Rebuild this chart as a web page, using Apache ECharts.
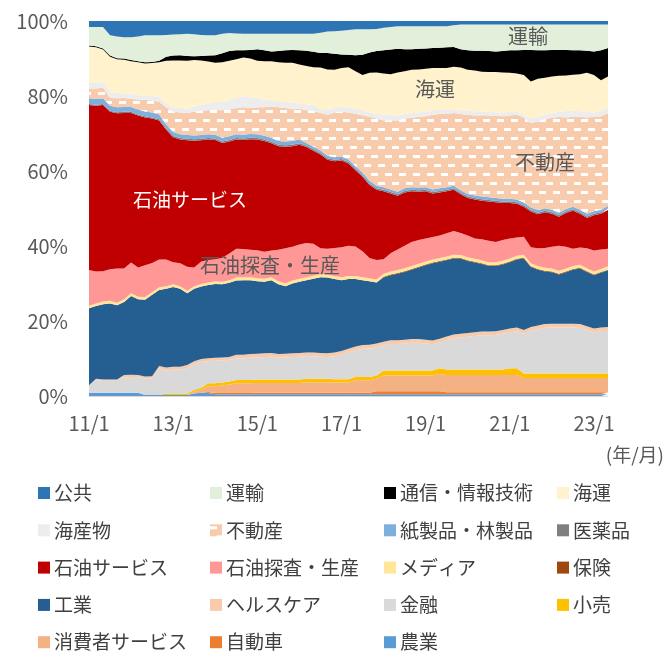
<!DOCTYPE html>
<html><head><meta charset="utf-8">
<script src="https://cdn.jsdelivr.net/npm/echarts@6/dist/echarts.min.js"></script>
<style>html,body{margin:0;padding:0;background:#fff}#c{width:665px;height:653px}</style>
</head><body><div id="c"></div>
<script>
const categories = [
'11/1','11/3','11/5','11/7','11/9','11/11','12/1','12/3','12/5','12/7','12/9','12/11',
'13/1','13/3','13/5','13/7','13/9','13/11','14/1','14/3','14/5','14/7','14/9','14/11',
'15/1','15/3','15/5','15/7','15/9','15/11','16/1','16/3','16/5','16/7','16/9','16/11',
'17/1','17/3','17/5','17/7','17/9','17/11','18/1','18/3','18/5','18/7','18/9','18/11',
'19/1','19/3','19/5','19/7','19/9','19/11','20/1','20/3','20/5','20/7','20/9','20/11',
'21/1','21/3','21/5','21/7','21/9','21/11','22/1','22/3','22/5','22/7','22/9','22/11',
'23/1','23/3','23/5'];
const yTicks = [0,20,40,60,80,100];

const agriculture = [0.9,0.9,0.9,0.9,0.9,0.9,0.9,0.9,0.3,0.3, 0.3,0.3,0.3,0.3,0.3,0.7,0.9,0.8,0.5,0.5,
 0.5,0.5,0.5,0.5,0.5,0.5,0.5,0.5,0.5,0.5, 0.5,0.5,0.5,0.5,0.5,0.5,0.5,0.5,0.5,0.5, 0.5,0.5,0.5,0.5,0.5,0.5,0.5,0.5,0.5,0.5,
 0.5,0.5,0.5,0.5,0.5,0.5,0.5,0.5,0.5,0.5, 0.5,0.5,0.5,0.5,0.5,0.5,0.5,0.5,0.5,0.5, 0.5,0.5,0.5,0.5,0.5];
const automobile = [0,0,0,0,0,0,0,0,0,0, 0,0,0,0,0,0,0,0.3,0.3,0.3, 0.3,0.3,0.3,0.3,0.4,0.4,0.4,0.4,0.4,0.4,
 0.4,0.4,0.4,0.4,0.4,0.4,0.4,0.4,0.4,0.4, 0.4,0.8,0.8,0.8,0.8,0.8,0.8,0.8,0.8,0.8, 0.8,0.5,0.5,0.5,0.5,0.5,0.5,0.5,0.5,0.5,
 0.5,0.5,0.5,0.5,0.5,0.5,0.5,0.5,0.5,0.5, 0.5,0.5,0.5,0.5,0.5];
const consumer = [0,0,0,0,0,0,0,0,0,0, 0,0,0,0,0,0.5,0.8,1.5,1.8,2.0, 2.3,2.6,2.6,2.6,2.6,2.6,2.6,2.6,2.6,2.6,
 2.6,2.8,2.8,2.8,2.8,2.7,2.7,2.7,3.3,3.3, 3.3,3.3,4.2,4.2,4.2,4.2,4.2,4.2,4.2,4.2, 4.6,4.6,4.6,4.6,4.6,4.6,4.6,4.6,4.6,4.6,
 4.6,4.6,3.8,3.8,3.8,3.8,3.8,3.8,3.8,3.8, 3.8,3.8,3.8,3.8,3.8];
const retail = [0,0,0,0,0,0,0,0,0,0, 0,0.4,0.4,0.4,0.4,0.5,0.5,0.8,0.8,0.8, 0.8,0.9,0.9,0.9,0.9,0.9,0.9,0.9,0.9,0.9,
 0.9,0.9,0.9,0.9,0.9,0.9,0.9,0.9,0.9,0.9, 0.9,0.9,1.3,1.3,1.3,1.3,1.3,1.3,1.3,1.3, 1.5,1.5,1.5,1.5,1.5,1.5,1.5,1.5,1.5,1.5,
 1.8,1.8,1.2,1.2,1.2,1.2,1.2,1.2,1.2,1.2, 1.2,1.2,1.2,1.2,1.2];
const finance = [2.0,3.4,3.2,3.2,3.2,4.1,4.2,4.1,4.3,4.4, 7.1,6.1,6.3,6.3,6.8,6.8,6.9,5.9,6.0,5.9,
 5.7,5.7,5.7,5.9,5.9,6.0,6.1,5.8,5.9,6.0, 6.1,6.0,6.0,5.9,5.8,6.1,6.5,7.1,7.1,7.5,
 7.6,7.5,6.7,7.1,7.1,7.2,7.4,7.4,7.2,7.0, 6.9,7.8,8.3,8.5,8.7,8.9,9.1,9.1,9.2,9.5,
 9.6,9.9,10.6,11.4,11.8,12.2,12.3,12.3,12.3,12.3, 12.2,11.6,11.0,11.3,11.4];
const healthcare = [0,0.3,0.3,0.3,0.3,0.6,0.6,0.6,0.6,0.6, 0.6,0.8,0.8,0.8,0.8,0.8,0.8,0.8,0.8,0.8,
 0.8,1.0,1.0,1.0,1.0,1.0,1.0,1.0,1.0,1.0, 1.0,1.0,1.0,1.0,1.0,1.0,1.0,1.0,1.0,1.0, 1.0,1.0,1.0,1.0,1.0,1.0,1.0,1.0,1.0,1.0,
 1.0,1.0,1.0,1.0,1.0,1.0,1.0,1.0,1.0,1.0, 1.0,1.0,1.0,1.0,1.0,1.0,1.0,1.0,1.0,1.0, 1.0,1.0,1.0,1.0,1.0];
const industrial = [20.5,19.4,20.1,20.3,19.8,19.5,21.0,20.2,20.5,21.7, 20.3,21.0,21.3,20.8,19.1,19.3,19.3,19.5,19.7,19.5,
 19.8,19.8,19.9,19.7,19.3,19.1,19.4,18.6,18.0,18.6, 19.0,19.3,19.7,20.2,20.2,19.6,18.9,18.6,18.0,17.3,
 16.9,16.3,17.1,17.3,17.7,18.1,18.5,19.1,19.9,20.6, 20.5,20.3,20.3,20.0,19.2,18.6,18.0,17.5,17.4,17.5,
 17.7,18.1,19.1,16.0,14.9,14.0,13.7,13.1,13.7,14.4, 14.8,14.5,14.2,14.6,15.2];
const insurance = [0,0,0,0,0,0,0,0,0,0, 0,0,0,0,0,0,0,0,0,0, 0,0,0,0,0,0,0,0,0,0, 0,0,0,0,0,0,0,0,0,0,
 0,0,0.2,0.2,0.2,0.2,0.2,0.2,0.2,0.2, 0.2,0.2,0.2,0.2,0.2,0.2,0.2,0.2,0.2,0.2, 0.2,0.2,0.2,0.2,0.2,0.2,0.2,0.2,0.2,0.2, 0.2,0.2,0.2,0.2,0.2];
const media = [0.7,0.7,0.7,0.7,0.7,0.7,0.7,0.7,0.7,0.7, 0.7,0.7,0.7,0.7,0.7,0.7,0.7,0.7,0.7,0.7,
 0.7,0.8,0.8,0.8,0.8,0.8,0.8,0.8,0.8,0.8, 0.8,0.8,0.8,0.8,0.8,0.8,0.8,0.8,0.8,0.8, 0.8,0.8,0.8,0.8,0.8,0.8,0.8,0.8,0.8,0.8,
 0.8,0.8,0.8,0.8,0.8,0.8,0.8,0.8,0.8,0.8, 0.8,0.8,0.8,0.8,0.8,0.8,0.8,0.8,0.8,0.8, 0.8,0.8,0.8,0.8,0.8];
const oilEP = [9.5,8.5,8.1,8.4,9.1,8.2,8.2,7.8,8.5,7.8, 7.4,7.1,5.9,6.1,6.4,5.0,6.0,6.0,5.9,6.4,
 7.1,7.7,7.5,7.3,7.5,7.2,7.1,8.4,9.3,9.0, 9.1,9.1,8.5,6.9,6.9,7.5,8.0,8.1,7.9,6.9,
 5.4,5.2,3.9,4.9,5.5,6.0,6.4,6.3,6.1,6.0, 6.0,6.2,6.3,5.9,5.8,5.4,5.6,5.7,5.4,5.5,
 5.3,4.9,4.8,4.3,4.7,5.3,5.8,6.7,5.8,4.6, 4.6,5.3,5.6,5.2,4.7];
const oilService = [44.0,44.2,44.3,42.0,41.4,41.5,39.9,40.5,39.4,38.5, 37.1,34.6,33.3,33.0,33.7,33.8,32.3,32.1,31.8,30.6,
 29.9,29.1,29.1,29.5,29.5,29.5,28.6,27.6,27.1,26.8, 26.6,25.6,24.8,25.0,23.7,23.1,23.1,21.9,20.3,19.9,
 19.5,18.7,18.1,15.9,14.3,14.2,13.5,12.9,12.6,11.6, 11.5,11.2,11.0,10.3,10.0,10.4,10.3,10.5,10.6,9.9,
 9.5,9.0,8.0,9.5,9.1,9.5,8.8,7.7,9.0,10.1, 9.0,8.1,9.4,9.5,10.3];
const pharma = [0.3,0.3,0.3,0.3,0.3,0.3,0.3,0.3,0.3,0.3, 0.3,0.4,0.4,0.4,0.4,0.4,0.4,0.4,0.4,0.4,
 0.4,0.4,0.4,0.4,0.4,0.4,0.4,0.4,0.4,0.4, 0.4,0.4,0.4,0.4,0.4,0.4,0.4,0.4,0.4,0.4, 0.4,0.4,0.4,0.4,0.4,0.4,0.4,0.4,0.4,0.4,
 0.4,0.4,0.4,0.4,0.4,0.4,0.4,0.4,0.4,0.4, 0.4,0.4,0.4,0.4,0.4,0.4,0.4,0.4,0.4,0.4, 0.4,0.4,0.4,0.4,0.4];
const paper = [1.5,1.5,1.5,1.3,1.3,1.3,1.3,1.3,1.3,1.3, 1.3,1.0,1.0,1.0,1.0,1.0,1.0,1.0,1.0,1.0,
 1.0,1.0,1.0,1.0,1.0,1.0,1.0,1.0,1.0,1.0, 1.0,0.7,0.7,0.7,0.7,0.7,0.7,0.7,0.7,0.7, 0.7,0.7,0.7,0.7,0.7,0.7,0.7,0.7,0.7,0.7,
 0.7,0.7,0.7,0.7,0.7,0.7,0.7,0.7,0.7,0.7, 0.7,0.7,0.7,0.7,0.7,0.7,0.7,0.7,0.7,0.7, 0.7,0.7,0.7,0.7,0.7];
const realEstate = [2.6,2.8,2.8,2.1,2.4,2.4,2.2,2.6,3.1,3.2, 3.4,4.6,5.4,5.8,5.9,6.3,6.4,6.4,6.6,7.3,
 7.1,7.0,7.3,6.9,7.2,7.6,8.4,9.0,8.9,8.5, 8.2,8.7,9.5,10.0,10.9,11.9,11.9,12.5,14.0,15.3,
 17.1,17.9,17.8,18.4,19.0,18.6,18.5,18.8,18.9,19.9, 19.8,19.5,19.4,20.3,21.1,21.3,21.7,21.8,21.9,22.0,
 22.2,22.6,22.6,22.5,23.6,23.8,24.5,25.5,24.4,24.0, 24.8,25.7,25.2,24.9,24.7];
const seafood = [1.7,1.5,1.6,1.5,1.4,1.1,1.2,1.2,1.0,1.2, 1.3,1.0,1.2,1.2,1.1,1.4,1.6,1.8,2.1,2.2,
 2.6,2.7,3.0,2.7,2.6,2.0,1.6,1.6,1.7,1.8, 1.4,1.6,1.5,1.1,1.3,1.4,1.3,1.4,1.3,1.3,
 1.1,1.2,1.5,1.4,1.4,1.2,1.2,1.2,1.3,1.2, 1.1,1.1,0.8,1.0,1.2,1.2,1.0,1.0,1.0,1.0,
 1.0,1.0,0.8,1.3,1.2,1.1,1.2,1.4,1.7,1.5, 1.5,1.5,1.1,1.4,1.4];
const shipping = [9.5,9.5,8.6,9.5,9.0,9.1,8.8,8.8,8.7,8.8, 9.2,11.4,12.5,12.7,12.8,12.4,11.9,11.2,10.5,10.6,
 10.4,10.3,10.3,10.5,9.8,10.3,10.5,10.4,10.4,10.6, 10.4,10.2,10.2,11.0,10.8,10.0,10.4,10.7,10.0,9.4,
 10.6,11.1,11.0,10.9,11.4,11.4,11.6,11.5,11.4,11.3, 11.2,11.2,11.5,11.4,10.8,10.8,10.6,10.6,10.7,10.7,
 10.4,10.0,10.6,9.8,10.2,9.9,9.8,9.6,9.5,9.7, 9.8,10.4,10.0,8.2,8.4];
const telecom = [0.3,0.3,0.3,0.3,0.3,0.3,0.3,0.3,0.3,0.3, 0.4,1.1,1.3,1.4,1.3,1.0,1.2,1.6,2.0,2.4,
 2.6,2.4,1.9,2.3,3.1,2.9,2.6,3.0,3.3,3.4, 3.8,4.1,4.1,3.9,4.4,4.3,3.6,3.3,4.3,5.4,
 5.4,5.7,6.2,6.6,6.3,5.9,5.5,5.5,5.4,5.3, 5.4,5.5,5.3,4.9,5.2,5.3,5.6,5.6,5.5,5.7,
 6.0,6.2,6.7,8.4,7.6,7.3,7.1,6.9,6.8,6.5, 6.4,5.9,6.3,8.0,7.6];
const transport = [4.9,5.1,5.7,5.4,5.8,5.7,6.1,6.6,7.2,7.1, 6.8,5.8,5.6,5.6,5.9,5.9,5.6,5.4,5.3,5.2,
 4.8,4.5,4.4,4.3,4.1,4.4,4.7,4.6,4.4,4.3, 4.4,4.5,4.8,5.4,5.7,6.0,6.3,6.6,6.9,6.8,
 6.2,5.9,6.0,6.0,6.0,6.1,6.1,6.0,5.9,5.8, 5.7,5.6,5.8,6.6,6.9,7.0,7.0,7.1,7.2,7.1,
 6.9,6.9,6.8,6.8,6.9,6.9,6.8,6.8,6.8,6.9, 6.9,7.0,7.2,6.9,6.3];
const utilities = [1.6,1.6,1.6,3.8,4.1,4.3,4.3,4.1,3.8,3.8, 3.8,3.7,3.6,3.5,3.4,3.5,3.7,3.8,3.8,3.4,
 3.2,3.3,3.4,3.4,3.4,3.4,3.4,3.4,3.4,3.4, 3.4,3.4,3.4,3.1,2.8,2.7,2.6,2.4,2.2,2.2,
 2.2,2.1,1.8,1.6,1.4,1.4,1.4,1.4,1.4,1.4, 1.4,1.4,1.1,0.9,0.9,0.9,0.9,0.9,0.9,0.9,
 0.9,0.9,0.9,0.9,0.9,0.9,0.9,0.9,0.9,0.9, 0.9,0.9,0.9,0.9,0.9];

// pattern for 不動産
const pc = document.createElement('canvas');
pc.width = 14; pc.height = 18;
const px = pc.getContext('2d');
px.fillStyle = '#F8CBAD'; px.fillRect(0,0,14,18);
px.fillStyle = '#FFFFFF';
px.fillRect(0,2,7,3); px.fillRect(7,11,7,3);
const pattern = {image: pc, repeat: 'repeat'};

// bottom -> top
const stackDefs = [
  ['農業', agriculture, '#5B9BD5'],
  ['自動車', automobile, '#ED7D31'],
  ['消費者サービス', consumer, '#F4B183'],
  ['小売', retail, '#FFC000'],
  ['金融', finance, '#D9D9D9'],
  ['ヘルスケア', healthcare, '#F8CBAD'],
  ['工業', industrial, '#255E91'],
  ['保険', insurance, '#9E480E'],
  ['メディア', media, '#FFE699'],
  ['石油探査・生産', oilEP, '#FF9797'],
  ['石油サービス', oilService, '#C00000'],
  ['医薬品', pharma, '#7F7F7F'],
  ['紙製品・林製品', paper, '#7FAFDD'],
  ['不動産', realEstate, pattern],
  ['海産物', seafood, '#EDEDED'],
  ['海運', shipping, '#FFF2CC'],
  ['通信・情報技術', telecom, '#000000'],
  ['運輸', transport, '#E2EFDA'],
  ['公共', utilities, '#2E75B6']
];

const FONT = '"Noto Sans CJK JP", "Noto Sans", sans-serif';
const series = stackDefs.map(([name, data, color]) => ({
  name, type: 'line', stack: 'total', data,
  symbol: 'none', showSymbol: false,
  lineStyle: {width: 0, color: typeof color === 'string' ? color : '#F8CBAD'},
  areaStyle: {color: color, opacity: 1},
  itemStyle: {color: color},
  emphasis: {disabled: true}
}));

const legendCols = [
  ['公共','海産物','石油サービス','工業','消費者サービス'],
  ['運輸','不動産','石油探査・生産','ヘルスケア','自動車'],
  ['通信・情報技術','紙製品・林製品','メディア','金融','農業'],
  ['海運','医薬品','保険','小売']
];
const legendLeft = [38, 210, 384, 557];
const legends = legendCols.map((d, k) => ({
  orient: 'vertical', left: legendLeft[k], top: 483, padding: 0,
  data: d, icon: 'rect', itemWidth: 12, itemHeight: 12, itemGap: 17.3,
  selectedMode: false,
  textStyle: {fontSize: 19, color: '#404040', fontFamily: FONT, lineHeight: 20, padding: [0,0,0,-1]}
}));

const labelStyle = (text, size, fill, align) => ({text, fontSize: size, fill, fontFamily: FONT, align: align || 'center', verticalAlign: 'middle'});

const chart = echarts.init(document.getElementById('c'), null, {renderer: 'canvas'});
chart.setOption({
  animation: false,
  backgroundColor: '#ffffff',
  grid: {left: 89, right: 57, top: 21, bottom: 257, containLabel: false},
  xAxis: {
    type: 'category', boundaryGap: false, data: categories,
    axisLine: {lineStyle: {color: '#D9D9D9', width: 1}},
    axisTick: {show: false},
    axisLabel: {interval: 11, fontSize: 20, color: '#595959', fontFamily: FONT, margin: 17}
  },
  yAxis: {
    type: 'value', min: yTicks[0], max: yTicks[yTicks.length-1], interval: 20,
    axisLine: {show: false}, axisTick: {show: false}, splitLine: {show: false},
    axisLabel: {formatter: '{value}%', fontSize: 20, color: '#595959', fontFamily: FONT, margin: 21}
  },
  legend: legends,
  graphic: [
    {type: 'text', z: 100, x: 528, y: 36, style: labelStyle('運輸', 20, '#595959')},
    {type: 'text', z: 100, x: 435, y: 89, style: labelStyle('海運', 20, '#595959')},
    {type: 'text', z: 100, x: 545, y: 162, style: labelStyle('不動産', 20, '#595959')},
    {type: 'text', z: 100, x: 190, y: 200, style: labelStyle('石油サービス', 19, '#FFFFFF')},
    {type: 'text', z: 100, x: 270, y: 265, style: labelStyle('石油探査・生産', 20, '#595959')},
    {type: 'text', z: 100, x: 664, y: 455, style: labelStyle('(年/月)', 19, '#595959', 'right')}
  ],
  series
});
</script></body></html>
